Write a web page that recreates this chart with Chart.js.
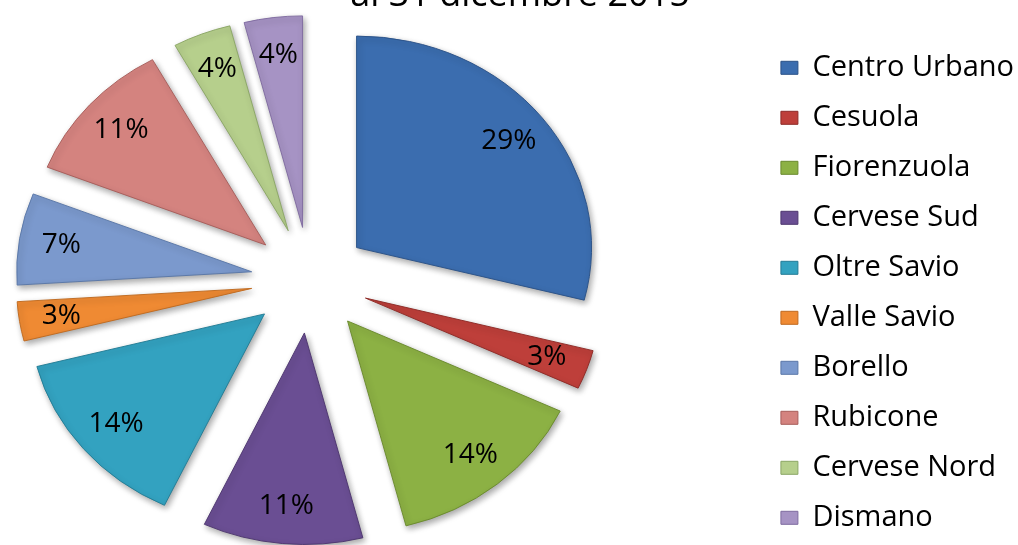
<!DOCTYPE html>
<html>
<head>
<meta charset="utf-8">
<script src="https://cdn.jsdelivr.net/npm/chart.js@4.4.1/dist/chart.umd.min.js"></script>
<style>
  html, body { margin: 0; padding: 0; overflow: hidden; background: #fff; }
  /* canvas is wider than the window so the title centre and the pie centre can both fit */
  canvas { display: block; margin-left: -140px; }
</style>
</head>
<body>
<canvas id="quartieri" width="1320" height="560"></canvas>
<script>
const quartieri = ["Centro Urbano", "Cesuola", "Fiorenzuola", "Cervese Sud", "Oltre Savio",
                   "Valle Savio", "Borello", "Rubicone", "Cervese Nord", "Dismano"];
const percentuali = [29, 3, 14, 11, 14, 3, 7, 11, 4, 4];
const titolo = "al 31 dicembre 2015";

// slice colours (Excel 2007 palette with bevel look) and a darker edge
const colori = ["#3B6DAF", "#BE3F3A", "#8CB144", "#6A4E93", "#33A2C0",
                "#EF8A33", "#7B99CD", "#D4837F", "#B6CF8C", "#A693C4"];
const bordi  = ["#2B5288", "#8E2B27", "#6A8A2E", "#4E3770", "#237C95",
                "#C06A20", "#5A77A8", "#A85E5B", "#8BA766", "#7F6CA0"];

const explode = 59;   // how far every slice is pulled out of the pie
const squash = 0.9;   // the original pie is a bit flatter than wide

Chart.defaults.font.family = "'Open Sans', sans-serif";
Chart.defaults.color = "#000";

// draws the exploded, slightly flattened pie and the % labels
const explodedPie = {
  id: "explodedPie",
  beforeDatasetsDraw(chart) {
    const ctx = chart.ctx;
    const meta = chart.getDatasetMeta(0);
    const total = percentuali.reduce((a, b) => a + b, 0);
    const cx = meta.data[0].x, cy = meta.data[0].y;

    ctx.save();
    ctx.translate(cx, cy);
    ctx.scale(1, squash);
    ctx.translate(-cx, -cy);
    ctx.shadowColor = "rgba(0,0,0,0.35)";
    ctx.shadowBlur = 6;
    ctx.shadowOffsetX = 2;
    ctx.shadowOffsetY = 3;
    meta.data.forEach(arc => {
      const mid = (arc.startAngle + arc.endAngle) / 2;
      ctx.save();
      ctx.translate(Math.cos(mid) * explode, Math.sin(mid) * explode);
      arc.draw(ctx);
      ctx.restore();
    });
    ctx.restore();

    ctx.save();
    ctx.font = "28px 'Open Sans'";
    ctx.fillStyle = "#000";
    ctx.textAlign = "center";
    ctx.textBaseline = "middle";
    meta.data.forEach((arc, i) => {
      const mid = (arc.startAngle + arc.endAngle) / 2;
      const r = explode + arc.outerRadius * 0.82;
      const x = cx + Math.cos(mid) * r;
      const y = cy + Math.sin(mid) * r * squash;
      ctx.fillText(Math.round(percentuali[i] / total * 100) + "%", x, y);
    });
    ctx.restore();
    return false;
  }
};

new Chart(document.getElementById("quartieri"), {
  type: "pie",
  data: {
    labels: quartieri,
    datasets: [{
      data: percentuali,
      backgroundColor: colori,
      borderColor: bordi,
      borderWidth: 1,
      radius: 235
    }]
  },
  options: {
    responsive: false,
    animation: false,
    layout: { padding: 0 },
    plugins: {
      title: {
        display: true,
        text: titolo,
        color: "#000",
        font: { size: 36, weight: "normal" },
        padding: { top: -26, bottom: -17 }
      },
      // empty spacer right of the legend (off screen)
      subtitle: {
        display: true,
        text: "",
        position: "right",
        weight: 1500,
        font: { size: 10, lineHeight: 1 },
        padding: { top: 146, bottom: 0 }
      },
      legend: {
        position: "right",
        align: "start",
        title: { display: true, text: "", font: { size: 10, lineHeight: 1 }, padding: { top: 22.3, bottom: 0 } },
        labels: {
          color: "#000",
          font: { size: 29 },
          boxWidth: 17,
          boxHeight: 13,
          padding: 21
        }
      },
      tooltip: { enabled: false }
    }
  },
  plugins: [explodedPie]
});
</script>
</body>
</html>
